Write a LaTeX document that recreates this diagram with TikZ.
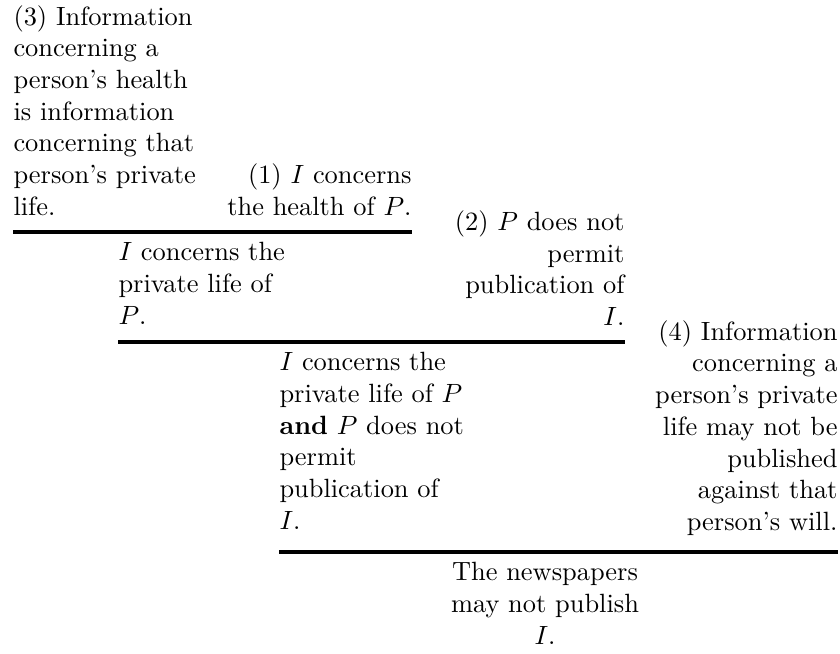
\documentclass[tikz,border=0pt]{standalone}
\usepackage{amsmath}
\usetikzlibrary{positioning,calc}

\begin{document}
\begin{tikzpicture}[x=0.3788pt, y=-0.3788pt,
        stmt/.style={inner sep=0pt, font=\fontsize{10}{12}\selectfont},
        infer/.style={line width=1.3pt}]
    % Page frame
    \useasboundingbox (0,0) rectangle (840,653);

    % End points of the three inference lines
    \coordinate (L1a) at (13,232);
    \coordinate (L1b) at (412,232);
    \coordinate (L2a) at (118,342);
    \coordinate (L2b) at (625,342);
    \coordinate (L3a) at (279,552);
    \coordinate (L3b) at (838,552);
    \coordinate (L3m) at (545,552);

    % First step: health -> private life
    \node[stmt, align=left, anchor=south west] (health) at ($(L1a)+(0,-16)$)
        {(3) Information\\concerning a\\person's health\\is information\\concerning that\\person's private\\life.};
    \node[stmt, align=right, anchor=south east] (fact1) at ($(L1b)+(0,-16)$)
        {(1) $I$ concerns\\the health of $P$.};
    \draw[infer] (L1a) -- (L1b);
    \node[stmt, align=left, anchor=north west] (private) at ($(L2a)+(0,-100)$)
        {$I$ concerns the\\private life of\\$P$.};

    % Second step: conjunction
    \node[stmt, align=right, anchor=south east] (fact2) at ($(L2b)+(0,-16)$)
        {(2) $P$ does not\\permit\\publication of\\$I$.};
    \draw[infer] (L2a) -- (L2b);
    \node[stmt, align=left, anchor=north west] (both) at ($(L3a)+(0,-200)$)
        {$I$ concerns the\\private life of $P$\\\textbf{and} $P$ does not\\permit\\publication of\\$I$.};

    % Third step: the rule applied
    \node[stmt, align=right, anchor=south east] (rule4) at ($(L3b)+(0,-16)$)
        {(4) Information\\concerning a\\person's private\\life may not be\\published\\against that\\person's will.};
    \draw[infer] (L3a) -- (L3b);
    \node[stmt, align=center, anchor=north] (verdict) at ($(L3m)+(0,10)$)
        {The newspapers\\may not publish\\$I$.};
\end{tikzpicture}
\end{document}
